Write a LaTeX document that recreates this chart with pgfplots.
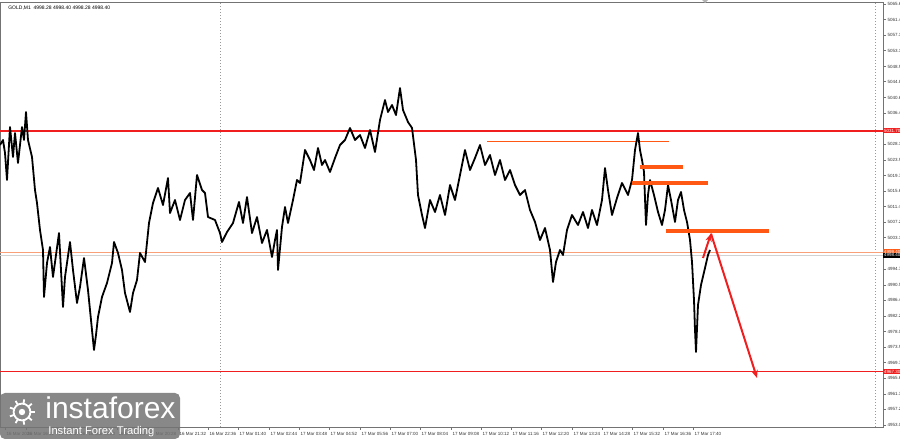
\documentclass[border=0pt]{standalone}
\usepackage{fontspec}
\setmainfont{Liberation Sans}
\setsansfont{Liberation Sans}
\usepackage{pgfplots}
\usepackage{pgfplotstable}
\pgfplotsset{compat=1.18}
\usetikzlibrary{arrows.meta}
\definecolor{mtred}{RGB}{240,30,30}
\definecolor{mtorange}{RGB}{255,88,20}
\definecolor{mtsalmon}{RGB}{250,160,120}
\definecolor{framegray}{gray}{0.45}

% GOLD M1 close trace, x = bar position, price
\pgfplotstableread{
x price
0 5027.89
3 5029.23
5 5025.75
7 5018.53
10 5032.70
13 5024.68
15 5031.10
18 5023.08
22 5032.70
24 5029.23
26 5036.72
28 5029.23
32 5024.68
35 5015.85
37 5012.38
40 5005.16
43 4999.81
44 4987.24
47 4996.33
50 5000.61
53 4992.59
56 4998.47
59 5004.35
63 4984.56
65 4992.59
70 5001.95
73 4994.46
77 4985.63
80 4989.91
84 4997.67
88 4989.11
92 4978.41
94 4973.06
96 4977.07
98 4981.89
102 4987.24
107 4990.98
112 4996.33
114 5001.95
118 4999.01
122 4994.46
125 4988.31
130 4983.23
133 4988.31
137 4991.78
140 4999.01
145 4996.60
149 5007.03
153 5012.38
158 5016.39
163 5011.84
168 5019.06
170 5009.70
175 5013.18
180 5007.83
185 5013.18
190 5015.05
193 5007.83
197 5019.87
202 5015.85
205 5015.05
208 5008.63
215 5007.83
220 5004.35
222 5001.95
227 5004.62
233 5007.03
239 5012.65
243 5007.03
247 5013.98
252 5004.35
257 5008.63
262 5001.68
267 5005.16
272 4997.94
275 5002.48
277 5005.16
278 4994.46
282 5005.96
285 5011.31
288 5007.03
293 5013.18
297 5018.53
300 5017.73
305 5026.55
310 5023.88
314 5021.20
318 5027.09
322 5022.54
325 5023.88
330 5020.67
335 5024.41
340 5027.89
345 5029.23
350 5032.44
355 5029.23
360 5030.56
365 5027.09
370 5031.90
375 5026.02
380 5034.58
385 5039.92
388 5036.72
392 5038.59
396 5035.91
400 5043.13
403 5037.25
408 5034.04
412 5032.44
416 5023.88
418 5014.52
422 5009.17
425 5005.69
430 5013.18
435 5009.97
440 5014.52
445 5009.17
450 5017.19
455 5013.18
460 5019.87
465 5026.55
470 5021.20
475 5024.41
480 5027.89
485 5022.54
490 5025.22
495 5019.87
500 5023.88
505 5018.53
510 5021.20
515 5017.19
520 5014.52
525 5015.85
530 5010.51
535 5007.30
540 5002.48
545 5005.69
550 4999.81
553 4991.25
556 4996.60
560 4999.81
563 4998.47
567 5005.16
572 5009.17
578 5006.49
583 5009.97
588 5005.69
592 5010.51
597 5006.49
602 5013.18
605 5021.74
608 5015.85
612 5009.17
617 5013.71
622 5017.73
628 5014.52
632 5018.53
635 5026.55
638 5031.10
640 5026.55
642 5023.88
644 5020.67
646 5006.49
648 5014.52
650 5018.53
654 5014.52
658 5009.97
662 5006.49
665 5010.51
668 5017.19
671 5013.18
675 5007.30
678 5013.18
681 5015.32
684 5010.51
687 5007.30
690 5002.48
692 4996.60
694 4986.43
695 4978.41
696 4972.53
698 4985.10
701 4990.45
705 4994.99
708 4998.47
710 4999.81
}\goldline

\begin{document}
\begin{tikzpicture}[x=1pt,y=1pt]
\useasboundingbox (0,0) rectangle (450,219.5);
\begin{axis}[
  at={(0pt,6pt)}, anchor=south west,
  scale only axis, width=441.5pt, height=212.5pt,
  xmin=0, xmax=883, ymin=4952.47, ymax=5066.14,
  clip=false,
  axis line style={framegray, line width=0.4pt},
  tick align=outside,
  major tick length=1.5pt,
  tick style={framegray, line width=0.3pt},
  xtick pos=left, xticklabel pos=left,
  ytick pos=right, yticklabel pos=right,
  xtick={5,26,57,87,117,148,178,208,238,269,299,329,360,390,420,451,481,511,541,572,602,632,663,693},
  xticklabels={16 Mar 2026,16 Mar 16:12,16 Mar 17:16,16 Mar 18:20,16 Mar 19:24,16 Mar 20:28,16 Mar 21:32,16 Mar 22:36,17 Mar 01:40,17 Mar 02:44,17 Mar 03:48,17 Mar 04:52,17 Mar 05:56,17 Mar 07:00,17 Mar 08:04,17 Mar 09:08,17 Mar 10:12,17 Mar 11:16,17 Mar 12:20,17 Mar 13:24,17 Mar 14:28,17 Mar 15:32,17 Mar 16:36,17 Mar 17:40},
  xticklabel style={font=\fontsize{2.25}{3}\selectfont, text=black!80, anchor=north west, inner sep=0pt, xshift=0.6pt, yshift=-1.2pt},
  ytick={5065.6,5061.4,5057.3,5053.1,5048.9,5044.8,5040.6,5036.4,5028.1,5023.9,5019.7,5015.6,5011.4,5007.2,5003.1,4994.7,4990.5,4986.4,4982.2,4978.0,4973.9,4969.7,4965.6,4961.3,4957.2,4953.0},
  yticklabels={5065.60,5061.40,5057.30,5053.10,5048.90,5044.80,5040.60,5036.40,5028.10,5023.90,5019.70,5015.60,5011.40,5007.20,5003.10,4994.70,4990.50,4986.40,4982.20,4978.00,4973.90,4969.70,4965.60,4961.30,4957.20,4953.00},
  yticklabel style={font=\fontsize{2.25}{3}\selectfont, text=black!80, anchor=west, inner sep=0pt, xshift=0.6pt},
]
% separators
\draw[gray!80, line width=0.3pt, dash pattern=on 0.6pt off 0.9pt] (axis cs:220,4952.47) -- (axis cs:220,5066.14);
\draw[gray!80, line width=0.3pt, dash pattern=on 0.6pt off 0.9pt] (axis cs:875,4952.47) -- (axis cs:875,5066.14);

% levels
\addplot[color=mtred, line width=0.8pt] coordinates {(0,5031.7) (883,5031.7)};
\addplot[color=mtred, line width=0.8pt] coordinates {(0,4967.3) (883,4967.3)};
\addplot[color=mtsalmon, line width=0.5pt] coordinates {(0,4999.1) (883,4999.1)};
\addplot[color=gray!35, line width=0.4pt] coordinates {(0,4998.4) (883,4998.4)};
\addplot[color=mtorange, line width=0.45pt] coordinates {(487,5028.96) (669,5028.96)};

% price
\addplot[color=black, line width=0.9pt, line join=round] table[x=x, y=price] {\goldline};

% zones
\addplot[color=mtorange, line width=2pt] coordinates {(640,5022.0) (683,5022.0)};
\addplot[color=mtorange, line width=2pt] coordinates {(632,5017.73) (708,5017.73)};
\addplot[color=mtorange, line width=2pt] coordinates {(666,5004.89) (769,5004.89)};

% forecast arrows
\addplot[color=mtred, line width=1pt, -{Stealth[length=4pt, width=3.2pt]}] coordinates {(703,4997.67) (711,5004.2)};
\addplot[color=mtred, line width=1pt, -{Stealth[length=4pt, width=3.2pt]}] coordinates {(711,5004.2) (757,4965.57)};

% price tags
\node[fill=mtred, text=white, inner sep=0.4pt, anchor=west, font=\fontsize{2.25}{3}\selectfont] at (axis cs:883,5031.7) {5031.70};
\node[fill=mtred, text=white, inner sep=0.4pt, anchor=west, font=\fontsize{2.25}{3}\selectfont] at (axis cs:883,4967.3) {4967.30};
\node[fill=mtorange, text=white, inner sep=0.4pt, anchor=west, font=\fontsize{2.25}{3}\selectfont] at (axis cs:883,4999.4) {4999.40};
\node[fill=black, text=white, inner sep=0.4pt, anchor=west, font=\fontsize{2.25}{3}\selectfont] at (axis cs:883,4998.4) {4998.40};

% header
\node[anchor=north west, inner sep=0pt, font=\fontsize{2.5}{3}\selectfont] at (rel axis cs:0.009,0.992) {GOLD,M1\ \ 4998.28 4998.40 4998.28 4998.40};
\end{axis}

% top marker
\fill[gray!60] (351,219.5) -- (354,219.5) -- (352.5,218) -- cycle;

% watermark
\fill[black!55, opacity=0.85, rounded corners=2.5pt] (0,0) rectangle (90,23);
\begin{scope}[white, line width=0.9pt]
  \draw (11,13.5) circle (4.2pt);
  \foreach \a in {0,40,...,320} \draw (11,13.5) ++(\a:4.2pt) -- ++(\a:2.2pt);
  \fill (11,13.5) circle (1.6pt);
\end{scope}
\node[anchor=base west, inner sep=0pt, text=white, font=\fontsize{15}{15}\selectfont] at (22.5,10) {instaforex};
\node[anchor=base west, inner sep=0pt, text=white, font=\fontsize{5.6}{6}\selectfont] at (24,2.3) {Instant Forex Trading};
\end{tikzpicture}
\end{document}
